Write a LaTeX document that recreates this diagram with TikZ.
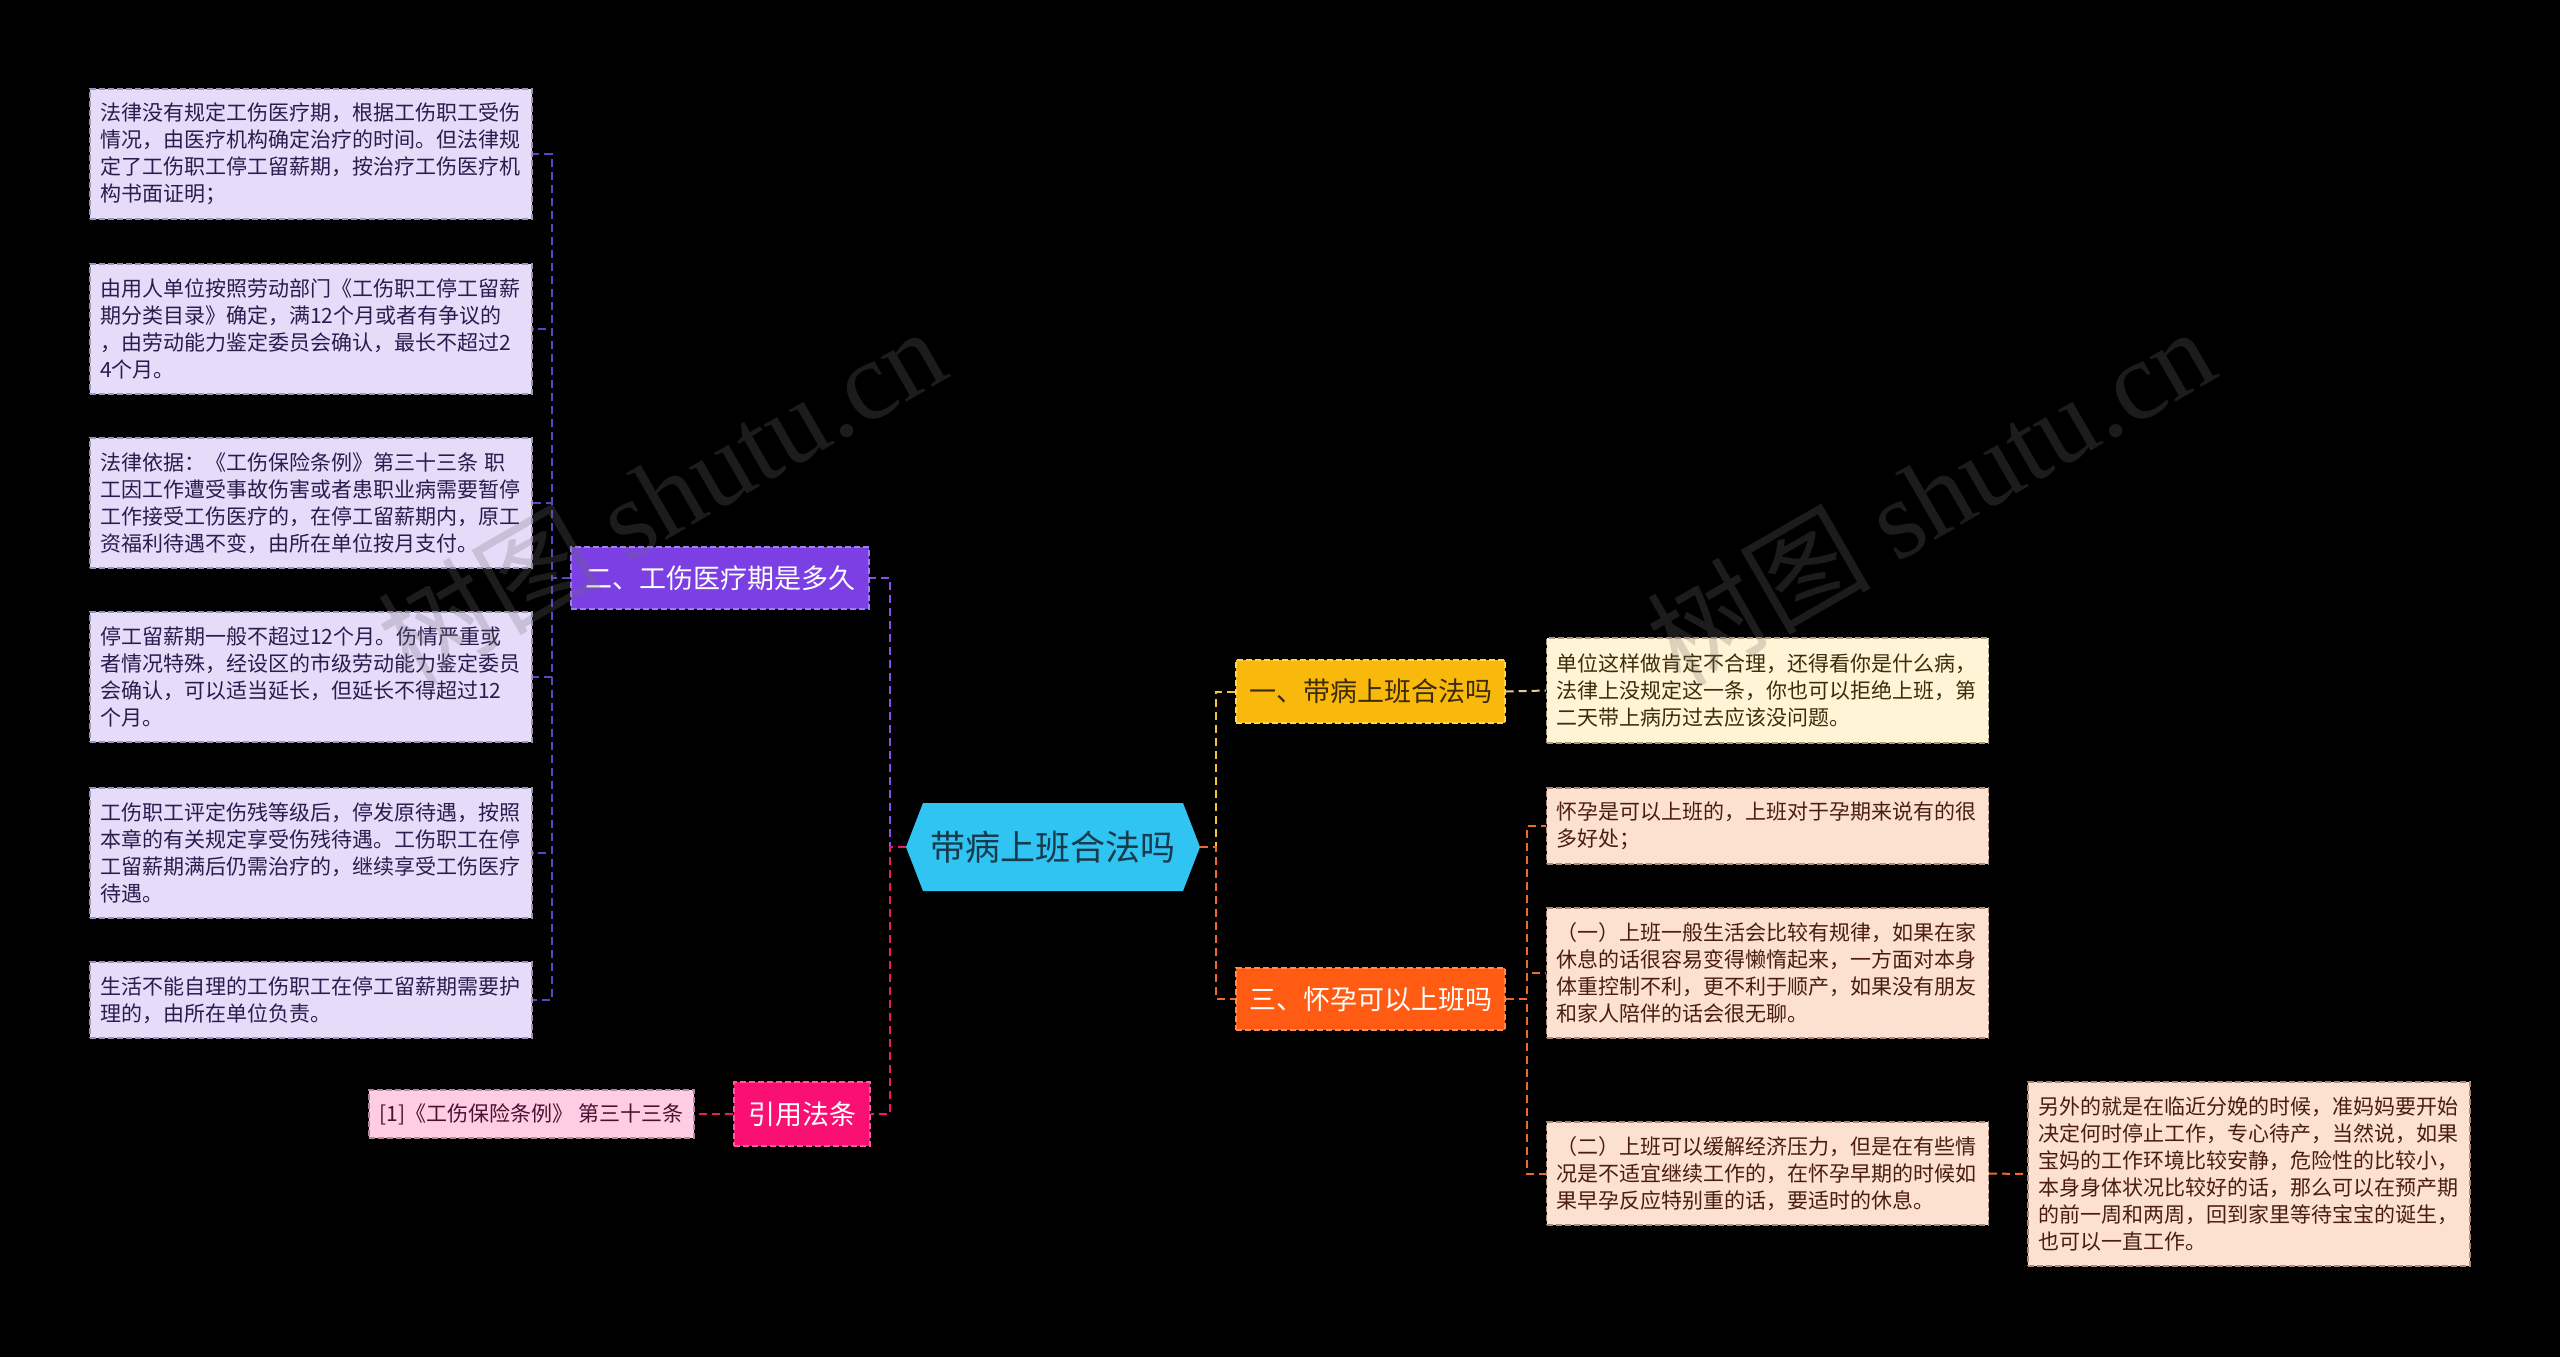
\documentclass[tikz,border=0pt]{standalone}
\usepackage{fontspec}
\setmainfont{Noto Sans CJK SC}
\newfontfamily\wmserif{Liberation Serif}
\definecolor{cCen}{HTML}{30C4F2}
\definecolor{cCenT}{HTML}{173A4D}
\definecolor{cP}{HTML}{7B3FE4}
\definecolor{cPb}{HTML}{A27CF0}
\definecolor{cPline}{HTML}{8A4FE6}
\definecolor{cPleafline}{HTML}{5B46C8}
\definecolor{cPleaf}{HTML}{E6DCFA}
\definecolor{cPleafB}{HTML}{9C94B4}
\definecolor{cPT}{HTML}{2A1D4E}
\definecolor{cK}{HTML}{FA0F73}
\definecolor{cKb}{HTML}{FF5A9E}
\definecolor{cKline}{HTML}{E81A6C}
\definecolor{cKleaf}{HTML}{FFCDE3}
\definecolor{cKleafB}{HTML}{B08898}
\definecolor{cKT}{HTML}{4A1030}
\definecolor{cY}{HTML}{F8B80C}
\definecolor{cYb}{HTML}{FFD45A}
\definecolor{cYline}{HTML}{F2C23A}
\definecolor{cYleafline}{HTML}{E9C79A}
\definecolor{cYleaf}{HTML}{FFF4D6}
\definecolor{cYleafB}{HTML}{A89C80}
\definecolor{cYT}{HTML}{3D2C0A}
\definecolor{cO}{HTML}{FF5B12}
\definecolor{cOb}{HTML}{FF8A50}
\definecolor{cOline}{HTML}{EE6A2C}
\definecolor{cOleaf}{HTML}{FCE0D0}
\definecolor{cOleafB}{HTML}{AA8A7A}
\definecolor{cOT}{HTML}{4A1E0E}
\definecolor{cWM}{HTML}{707070}
\begin{document}
\begin{tikzpicture}[x=0.5pt,y=-0.5pt,
  leaf/.style={line width=0.6pt, dash pattern=on 3pt off 1.5pt,
    font=\fontsize{10.5pt}{13.5pt}\selectfont, text width=211pt, align=left,
    inner xsep=5pt, inner ysep=2pt},
  leafP/.style={leaf, draw=cPleafB, fill=cPleaf, text=cPT},
  leafY/.style={leaf, draw=cYleafB, fill=cYleaf, text=cYT},
  leafO/.style={leaf, draw=cOleafB, fill=cOleaf, text=cOT},
  mnode/.style={font=\fontsize{13.5pt}{16pt}\selectfont, inner sep=0pt,
    line width=0.6pt, dash pattern=on 3pt off 1.5pt},
  con/.style={line width=1pt, dash pattern=on 4pt off 2.5pt},
  wm/.style={font=\fontsize{56pt}{60pt}\selectfont, text=cWM, opacity=0.25, inner sep=0pt}
]
\useasboundingbox (0,0) rectangle (2560,1357);
\fill[black] (0,0) rectangle (2560,1357);

% central hexagon
\fill[cCen] (906,847) -- (923,803) -- (1183,803) -- (1200,847) -- (1183,891) -- (923,891) -- cycle;
\node[font=\fontsize{17.5pt}{20pt}\selectfont, text=cCenT, minimum width=147pt,
  minimum height=44pt, inner sep=0pt] (c) at (1053,847) {带病上班合法吗};

% main branches
\node[mnode, fill=cP, draw=cPb, text=white, minimum width=149pt, minimum height=31pt] (n2) at (720,578) {二、工伤医疗期是多久};
\node[mnode, fill=cK, draw=cKb, text=white, minimum width=68pt, minimum height=32pt] (nref) at (802,1114) {引用法条};
\node[mnode, fill=cY, draw=cYb, text=cYT, minimum width=134.5pt, minimum height=31.5pt] (n1) at (1370.5,691.5) {一、带病上班合法吗};
\node[mnode, fill=cO, draw=cOb, text=white, minimum width=134.5pt, minimum height=31pt] (n3) at (1370.5,999) {三、怀孕可以上班吗};

% left leaves
\node[leafP, minimum height=65pt] (L1) at (311,154) {法律没有规定工伤医疗期，根据工伤职工受伤\\情况，由医疗机构确定治疗的时间。但法律规\\定了工伤职工停工留薪期，按治疗工伤医疗机\\构书面证明；};
\node[leafP, minimum height=65pt] (L2) at (311,329) {由用人单位按照劳动部门《工伤职工停工留薪\\期分类目录》确定，满12个月或者有争议的\\，由劳动能力鉴定委员会确认，最长不超过2\\4个月。};
\node[leafP, minimum height=65pt] (L3) at (311,503) {法律依据：《工伤保险条例》第三十三条 职\\工因工作遭受事故伤害或者患职业病需要暂停\\工作接受工伤医疗的，在停工留薪期内，原工\\资福利待遇不变，由所在单位按月支付。};
\node[leafP, minimum height=65pt] (L4) at (311,677) {停工留薪期一般不超过12个月。伤情严重或\\者情况特殊，经设区的市级劳动能力鉴定委员\\会确认，可以适当延长，但延长不得超过12\\个月。};
\node[leafP, minimum height=65pt] (L5) at (311,853) {工伤职工评定伤残等级后，停发原待遇，按照\\本章的有关规定享受伤残待遇。工伤职工在停\\工留薪期满后仍需治疗的，继续享受工伤医疗\\待遇。};
\node[leafP, minimum height=38pt] (L6) at (311,1000) {生活不能自理的工伤职工在停工留薪期需要护\\理的，由所在单位负责。};

% reference leaf
\node[line width=0.6pt, dash pattern=on 3pt off 1.5pt, draw=cKleafB, fill=cKleaf, text=cKT,
  font=\fontsize{10.5pt}{13.5pt}\selectfont, minimum width=162.5pt, minimum height=24pt, inner sep=2pt] (refleaf) at (531.5,1114) {[1]《工伤保险条例》 第三十三条};

% right leaves
\node[leafY, minimum height=52.5pt] (R1) at (1767.5,690.5) {单位这样做肯定不合理，还得看你是什么病，\\法律上没规定这一条，你也可以拒绝上班，第\\二天带上病历过去应该没问题。};
\node[leafO, minimum height=38pt] (Ra) at (1767.5,826) {怀孕是可以上班的，上班对于孕期来说有的很\\多好处；};
\node[leafO, minimum height=65pt] (Rb) at (1767.5,973) {（一）上班一般生活会比较有规律，如果在家\\休息的话很容易变得懒惰起来，一方面对本身\\体重控制不利，更不利于顺产，如果没有朋友\\和家人陪伴的话会很无聊。};
\node[leafO, minimum height=51.5pt] (Rc) at (1767.5,1173.5) {（二）上班可以缓解经济压力，但是在有些情\\况是不适宜继续工作的，在怀孕早期的时候如\\果早孕反应特别重的话，要适时的休息。};
\node[leafO, minimum height=92pt] (Rd) at (2249,1174) {另外的就是在临近分娩的时候，准妈妈要开始\\决定何时停止工作，专心待产，当然说，如果\\宝妈的工作环境比较安静，危险性的比较小，\\本身身体状况比较好的话，那么可以在预产期\\的前一周和两周，回到家里等待宝宝的诞生，\\也可以一直工作。};

% connectors
\coordinate (jl) at (890,847);
\coordinate (jr) at (1216,847);
\coordinate (bl) at (552,578);
\coordinate (br) at (1527,999);
\draw[con, cPline] (c.west) -- (jl) |- (n2.east);
\draw[con, cKline] (c.west) -- (jl) |- (nref.east);
\draw[con, cYline] (c.east) -- (jr) |- (n1.west);
\draw[con, cOline] (c.east) -- (jr) |- (n3.west);
\foreach \l in {L1,L2,L3,L4,L5,L6}
  \draw[con, cPleafline] (n2.west) -- (bl) |- (\l.east);
\draw[con, cKline] (nref.west) -- (refleaf.east);
\draw[con, cYleafline] (n1.east) -- (R1.west);
\foreach \l in {Ra,Rb,Rc}
  \draw[con, cOline] (n3.east) -- (br) |- (\l.west);
\draw[con, cOline] (Rc.east) -- (Rd.west);

% watermarks
\node[wm, rotate=30] (wm1) at (661,495) {树图 {\wmserif shutu.cn}};
\node[wm, rotate=30] (wm2) at (1930,495) {树图 {\wmserif shutu.cn}};
\end{tikzpicture}
\end{document}
